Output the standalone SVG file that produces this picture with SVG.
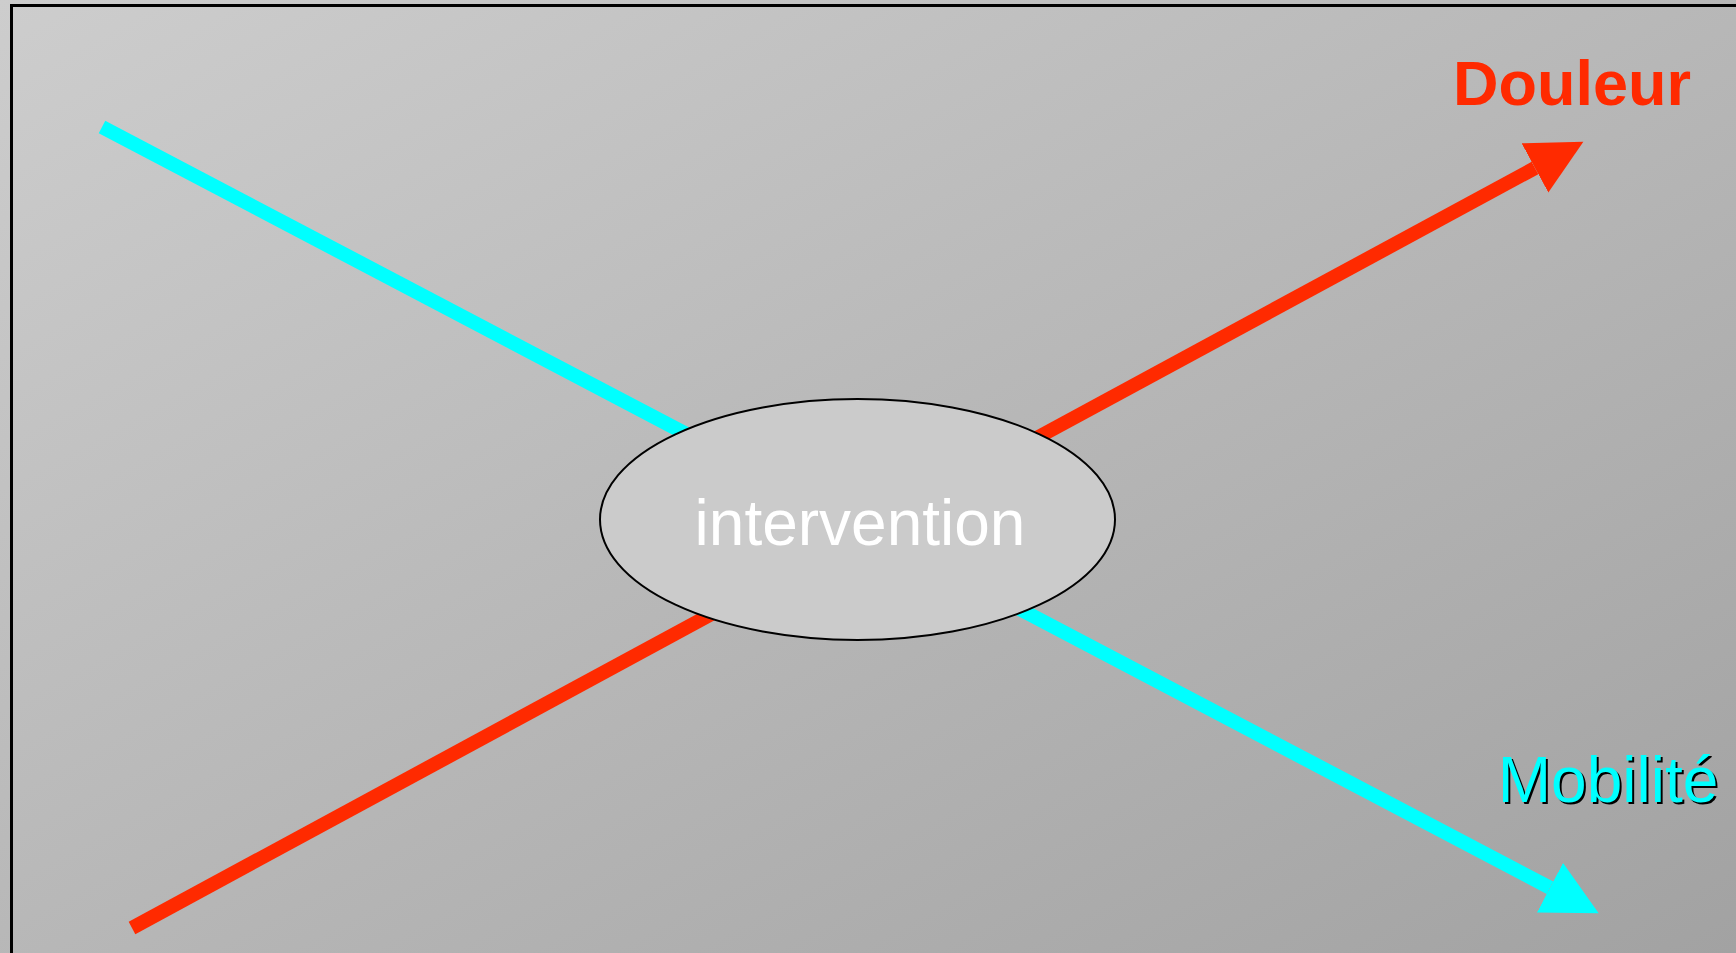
<svg xmlns="http://www.w3.org/2000/svg" width="1736" height="953" viewBox="0 0 1736 953">
  <defs>
    <linearGradient id="bg" x1="0" y1="0" x2="1" y2="1">
      <stop offset="0" stop-color="#cdcdcd"/>
      <stop offset="1" stop-color="#a2a2a2"/>
    </linearGradient>
    <marker id="headRed" markerUnits="userSpaceOnUse" markerWidth="56" markerHeight="56" refX="0" refY="28" orient="auto" viewBox="0 0 56 56">
      <path d="M0,0 L55,28 L0,56 Z" fill="#ff2a00"/>
    </marker>
    <marker id="headCyan" markerUnits="userSpaceOnUse" markerWidth="56" markerHeight="56" refX="0" refY="28" orient="auto" viewBox="0 0 56 56">
      <path d="M0,0 L55,28 L0,56 Z" fill="#00ffff"/>
    </marker>
    <style>
      .lbl { font-family: "Liberation Sans", Arial, sans-serif; font-size: 62px; text-anchor: middle; }
      .conn { stroke-width: 14; fill: none; stroke-linecap: butt; }
    </style>
  </defs>
  <rect x="0" y="0" width="1736" height="953" fill="url(#bg)"/>
  <rect x="11.5" y="5.5" width="1740" height="960" fill="none" stroke="#000" stroke-width="3"/>

  <g id="connectors">
    <line class="conn" x1="102" y1="127" x2="1550" y2="887.7" stroke="#00ffff" marker-end="url(#headCyan)"/>
    <line class="conn" x1="132" y1="928" x2="1535" y2="168" stroke="#ff2a00" marker-end="url(#headRed)"/>
  </g>

  <g id="intervention">
    <ellipse cx="857.5" cy="519.5" rx="257.5" ry="120.5" fill="#cbcbcb" stroke="#000" stroke-width="2"/>
    <text x="860" y="544.5" class="lbl" style="font-size:64px" fill="#ffffff">intervention</text>
  </g>

  <g id="douleur">
    <text x="1572" y="104.5" class="lbl" style="font-size:63px" font-weight="bold" fill="#ff2a00">Douleur</text>
  </g>

  <g id="mobilite">
    <text x="1610" y="804" class="lbl" style="font-size:64px" fill="#000000">Mobilité</text>
    <text x="1608" y="802" class="lbl" style="font-size:64px" fill="#00ffff">Mobilité</text>
  </g>
</svg>
